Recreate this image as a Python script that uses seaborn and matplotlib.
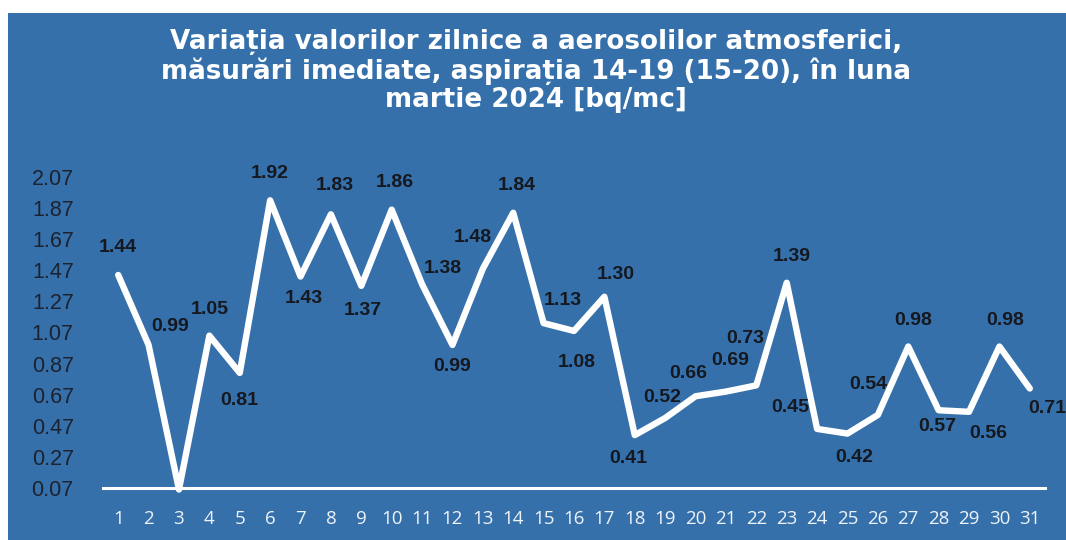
import matplotlib
matplotlib.use("Agg")
import matplotlib.pyplot as plt
import seaborn as sns
import pandas as pd
from matplotlib.patches import Rectangle

# ---- data ----
days = list(range(1, 32))
values = [1.44, 0.99, 0.06, 1.05, 0.81, 1.92, 1.43, 1.83, 1.37, 1.86,
          1.38, 0.99, 1.48, 1.84, 1.13, 1.08, 1.30, 0.41, 0.52, 0.66,
          0.69, 0.73, 1.39, 0.45, 0.42, 0.54, 0.98, 0.57, 0.56, 0.98, 0.71]
y_ticks = [0.07, 0.27, 0.47, 0.67, 0.87, 1.07, 1.27, 1.47, 1.67, 1.87, 2.07]
title = ("Variația valorilor zilnice a aerosolilor atmosferici,\n"
         "măsurări imediate, aspirația 14-19 (15-20), în luna\n"
         "martie 2024 [bq/mc]")

# ---- label placement (pixel offsets, style only) ----
label_offsets_px = [(0, 27), (22, 18), None, (0, 26), (0, -28), (0, 27), (3, -22),
                    (4, 29), (2, -25), (3, 27), (21, 16), (0, -22), (-10, 31),
                    (4, 27), (19, 23), (3, -32), (11, 22), (-7, -23), (-3, 21),
                    (-7, 23), (4, 31), (-11, 47), (5, 26), (-27, 21), (7, -24),
                    (-10, 30), (5, 26), (-1, -16), (19, -22), (6, 26), (17, -20)]

BG = "#3570ab"

sns.set_theme(style="white")
plt.rcParams["font.family"] = ["Liberation Sans", "DejaVu Sans"]

W, H = 1066, 540
fig = plt.figure(figsize=(W / 100, H / 100), dpi=100, facecolor="white")
fig.patches.append(Rectangle((8 / W, 0), 1 - 8 / W, 1 - 13 / H,
                             transform=fig.transFigure, facecolor=BG,
                             edgecolor="none", zorder=-10))

ax = fig.add_axes([103 / W, 1 - 488 / H, (1045 - 103) / W, (488 - 177) / H])
ax.set_facecolor("none")

df = pd.DataFrame({"day": days, "value": values})
sns.lineplot(data=df, x="day", y="value", ax=ax, color="white",
             linewidth=4.6, clip_on=False, solid_joinstyle="round")

ax.set_xlim(0.5, 31.5)
ax.set_ylim(y_ticks[0], y_ticks[-1])
ax.set_xticks(days)
ax.set_xticklabels([str(d) for d in days], fontsize=13.5, color="#eef3f8",
                   family=["Open Sans", "DejaVu Sans"])
ax.set_yticks(y_ticks)
ax.set_yticklabels([f"{t:.2f}" for t in y_ticks], fontsize=15.5, color="#1c2230")
ax.tick_params(axis="y", length=0, pad=21)
ax.tick_params(axis="x", length=0, pad=16)
ax.set_xlabel("")
ax.set_ylabel("")
for side in ["top", "right", "left"]:
    ax.spines[side].set_visible(False)
ax.spines["bottom"].set_color("white")
ax.spines["bottom"].set_linewidth(2.2)
ax.grid(False)

for d, v, off in zip(days, values, label_offsets_px):
    if off is None or v < y_ticks[0]:
        continue
    ax.annotate(f"{v:.2f}", xy=(d, v), xytext=(off[0] * 0.72, off[1] * 0.72),
                textcoords="offset points", ha="center", va="center",
                fontsize=14, fontweight="bold", color="#15181f")

fig.text(536 / W, 1 - 71 / H, title, ha="center", va="center", color="white",
         fontsize=18.8, fontweight="bold", linespacing=1.13,
         family=["DejaVu Sans"])

fig.savefig("out.png", dpi=100, facecolor="white")
